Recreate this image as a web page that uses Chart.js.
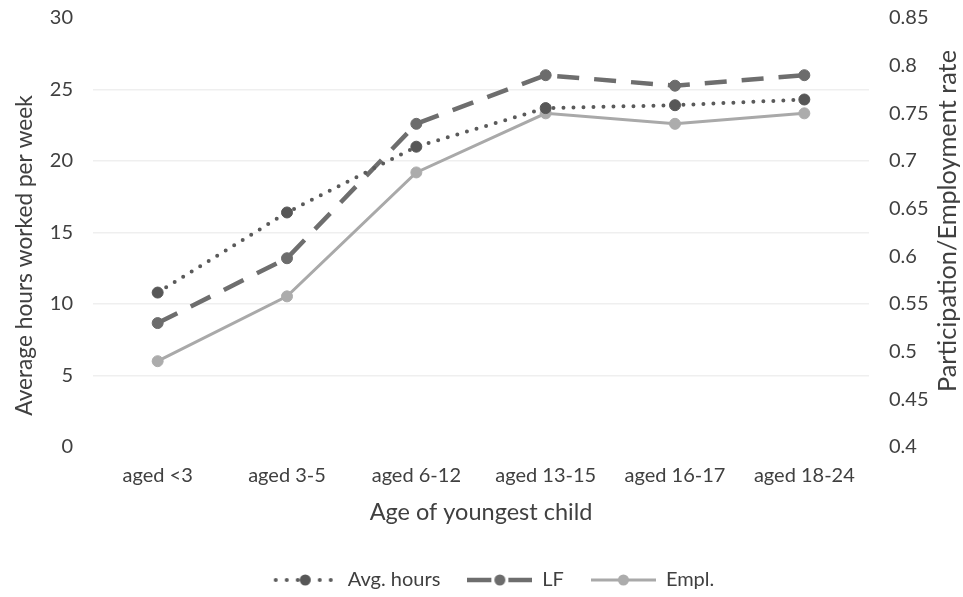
<!DOCTYPE html>
<html>
<head>
<meta charset="utf-8">
<script src="https://cdn.jsdelivr.net/npm/chart.js@4.4.1/dist/chart.umd.min.js"></script>
<style>
  html, body { margin: 0; padding: 0; background: #ffffff; }
  #wrap { width: 963px; height: 597px; position: relative; }
</style>
</head>
<body>
<div id="wrap"><canvas id="c" width="963" height="597"></canvas></div>
<script>
// Categories: age of the youngest child
const categories = ['aged <3', 'aged 3-5', 'aged 6-12', 'aged 13-15', 'aged 16-17', 'aged 18-24'];

// Average weekly hours worked (left axis)
const avgHours = [10.8, 16.4, 21.0, 23.7, 23.9, 24.3];

// Labour force participation rate (right axis)
const lfRate = [0.530, 0.598, 0.739, 0.790, 0.779, 0.790];

// Employment rate (right axis)
const emplRate = [0.490, 0.558, 0.688, 0.750, 0.739, 0.750];

// Axis tick values
const hoursTicks = [0, 5, 10, 15, 20, 25, 30];
const rateTicks = [0.4, 0.45, 0.5, 0.55, 0.6, 0.65, 0.7, 0.75, 0.8, 0.85];

// Axis titles
const leftTitle = 'Average hours worked per week';
const rightTitle = 'Participation/Employment rate';

const TEXT = '#404040';
const FONT = 'Lato, "Open Sans", "DejaVu Sans", sans-serif';

const styles = {
  hours: { line: '#5a5a5a', point: '#575757', dash: [0, 10], keyDash: [0, 11], cap: 'round', width: 4 },
  lf:    { line: '#6e6e6e', point: '#6c6c6c', dash: [22, 15], keyDash: [24, 17], cap: 'butt', width: 4.5 },
  empl:  { line: '#a9a9a9', point: '#acacac', dash: [], keyDash: [], cap: 'butt', width: 3 }
};

// Small legend swatch: a short line in the series style with its marker centred on it
function swatch(s) {
  const w = 65, h = 14;
  const cv = document.createElement('canvas');
  cv.width = w; cv.height = h;
  const g = cv.getContext('2d');
  g.strokeStyle = s.line;
  g.lineWidth = s.width;
  g.lineCap = s.cap;
  g.setLineDash(s.keyDash);
  g.beginPath();
  g.moveTo(s.cap === 'round' ? 3 : 0, h / 2);
  g.lineTo(w, h / 2);
  g.stroke();
  g.setLineDash([]);
  g.fillStyle = s.point;
  g.beginPath();
  g.arc(w / 2, h / 2, 5.5, 0, Math.PI * 2);
  g.fill();
  return cv;
}

function series(label, data, s, axis) {
  return {
    label: label,
    data: data,
    yAxisID: axis,
    borderColor: s.line,
    borderWidth: s.width,
    borderDash: s.dash,
    borderCapStyle: s.cap,
    backgroundColor: s.point,
    pointBackgroundColor: s.point,
    pointBorderColor: s.point,
    pointBorderWidth: 1,
    pointRadius: 5.5,
    pointHoverRadius: 5.5,
    tension: 0,
    fill: false,
    swatch: swatch(s)
  };
}

const datasets = [
  series('Avg. hours', avgHours, styles.hours, 'y'),
  series('LF', lfRate, styles.lf, 'y1'),
  series('Empl.', emplRate, styles.empl, 'y1')
];

// Nudges the legend row slightly right and down
const legendShift = {
  id: 'legendShift',
  afterLayout(chart) {
    chart.legend.left += 12;
    chart.legend.right += 12;
    chart.legend.top += 3;
    chart.legend.bottom += 3;
  }
};

// Both vertical axis titles read bottom-to-top, placed beside the plot area
const axisTitles = {
  id: 'axisTitles',
  afterDraw(chart) {
    const { ctx, chartArea } = chart;
    const mid = (chartArea.top + chartArea.bottom) / 2;
    ctx.save();
    ctx.fillStyle = TEXT;
    ctx.textAlign = 'center';
    ctx.textBaseline = 'alphabetic';

    ctx.save();
    ctx.font = '22.7px ' + FONT;
    ctx.translate(32, mid + 23);
    ctx.rotate(-Math.PI / 2);
    ctx.fillText(leftTitle, 0, 0);
    ctx.restore();

    ctx.save();
    ctx.font = '25.3px ' + FONT;
    ctx.translate(956, mid - 11.5);
    ctx.rotate(-Math.PI / 2);
    ctx.fillText(rightTitle, 0, 0);
    ctx.restore();

    ctx.restore();
  }
};

function fixVertical(width) {
  return function (scale) {
    scale.width = width;
    scale.paddingTop = 0;
    scale.paddingBottom = 0;
  };
}

new Chart(document.getElementById('c'), {
  type: 'line',
  data: { labels: categories, datasets: datasets },
  plugins: [legendShift, axisTitles],
  options: {
    responsive: false,
    animation: false,
    devicePixelRatio: 1,
    layout: { padding: { top: 18, left: 0, right: 0, bottom: 0 } },
    plugins: {
      tooltip: { enabled: false },
      legend: {
        position: 'bottom',
        labels: {
          usePointStyle: true,
          pointStyleWidth: 65,
          padding: 27,
          color: TEXT,
          font: { family: FONT, size: 20 },
          generateLabels(chart) {
            return chart.data.datasets.map((d, i) => ({
              text: d.label,
              pointStyle: d.swatch,
              fontColor: TEXT,
              lineWidth: 0,
              strokeStyle: 'transparent',
              fillStyle: 'transparent',
              hidden: false,
              datasetIndex: i
            }));
          }
        }
      }
    },
    scales: {
      x: {
        offset: true,
        border: { display: false },
        grid: { display: false, drawTicks: false },
        ticks: { color: TEXT, font: { family: FONT, size: 20 }, padding: 17, maxRotation: 0 },
        title: {
          display: true,
          text: 'Age of youngest child',
          color: TEXT,
          font: { family: FONT, size: 23.5 },
          padding: { top: 0, bottom: 13 }
        },
        afterFit(scale) { scale.height = 93; }
      },
      y: {
        position: 'left',
        min: 0,
        max: 30,
        afterBuildTicks(scale) { scale.ticks = hoursTicks.map(v => ({ value: v })); },
        border: { display: false },
        grid: {
          drawTicks: false,
          color(ctx) {
            const v = ctx.tick && ctx.tick.value;
            return (v === 0 || v === 30) ? 'rgba(0,0,0,0)' : '#efefef';
          },
          lineWidth: 1.5
        },
        ticks: { color: TEXT, font: { family: FONT, size: 20 }, padding: 20 },
        title: { display: false },
        afterFit: fixVertical(93)
      },
      y1: {
        position: 'right',
        min: 0.4,
        max: 0.85,
        afterBuildTicks(scale) { scale.ticks = rateTicks.map(v => ({ value: v })); },
        border: { display: false },
        grid: { display: false, drawTicks: false },
        ticks: {
          color: TEXT,
          font: { family: FONT, size: 20 },
          padding: 20,
          callback(v) { return String(Math.round(v * 100) / 100); }
        },
        title: { display: false },
        afterFit: fixVertical(94)
      }
    }
  }
});
</script>
</body>
</html>
